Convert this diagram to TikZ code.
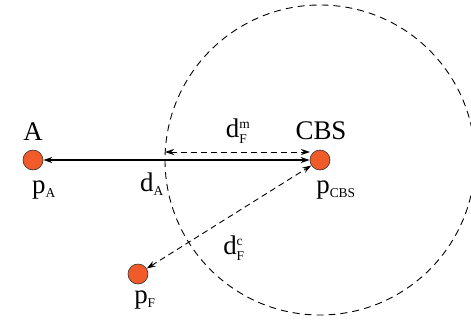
\documentclass[tikz,border=0pt]{standalone}
\usepackage{fontspec}
\setmainfont{Liberation Serif}
\usepackage{xcolor}
\usetikzlibrary{positioning,arrows.meta}
\definecolor{ptred}{HTML}{F15A29}
\tikzset{
  pt/.style={circle,draw=black!80,line width=0.6bp,fill=ptred,minimum size=20bp,inner sep=0pt},
  lbl/.style={font=\fontsize{27}{30}\selectfont,inner sep=1bp},
  dist/.style={line width=0.9bp,dash pattern=on 6bp off 4bp,{Stealth[length=9bp,width=6bp]}-{Stealth[length=9bp,width=6bp]}}
}
\newcommand{\sm}[1]{\scriptscriptstyle\mathrm{#1}}
\begin{document}
\begin{tikzpicture}[x=1bp,y=-1bp]
\useasboundingbox (0,0) rectangle (471,325);
% range circle round the CBS
\begin{scope}
\clip (0,0) rectangle (471,325);
\draw[line width=0.9bp,dash pattern=on 7bp off 5bp] (320,160) circle[radius=155];
\end{scope}
% points
\node[pt] (nA) at (33,160) {};
\node[pt] (nCBS) at (320,160) {};
\node[pt] (nF) at (138,274) {};
\coordinate (edge) at (165,152);
\coordinate (cbsm) at (310,152);
% labels
\node[lbl] (tA) at (33,132) {A};
\node[lbl] (tCBS) at (321,131) {CBS};
\node[lbl] (tpA) at (44,190) {$\mathrm{p}_{\sm{A}}$};
\node[lbl] (tpCBS) at (336,190) {$\mathrm{p}_{\sm{CBS}}$};
\node[lbl] (tpF) at (145,300) {$\mathrm{p}_{\sm{F}}$};
\node[lbl] (tdA) at (152,184) {$\mathrm{d}_{\sm{A}}$};
\node[lbl] (tdFm) at (238,131) {$\mathrm{d}^{\sm{m}}_{\sm{F}}$};
\node[lbl] (tdFc) at (234,248) {$\mathrm{d}^{\sm{c}}_{\sm{F}}$};
% distances
\draw[line width=1.8bp,{Stealth[length=9bp,width=6bp]}-{Stealth[length=9bp,width=6bp]}] (nCBS) -- (nA);
\draw[dist] (edge) -- (cbsm);
\draw[dist] (nF) -- (nCBS);
\end{tikzpicture}
\end{document}
